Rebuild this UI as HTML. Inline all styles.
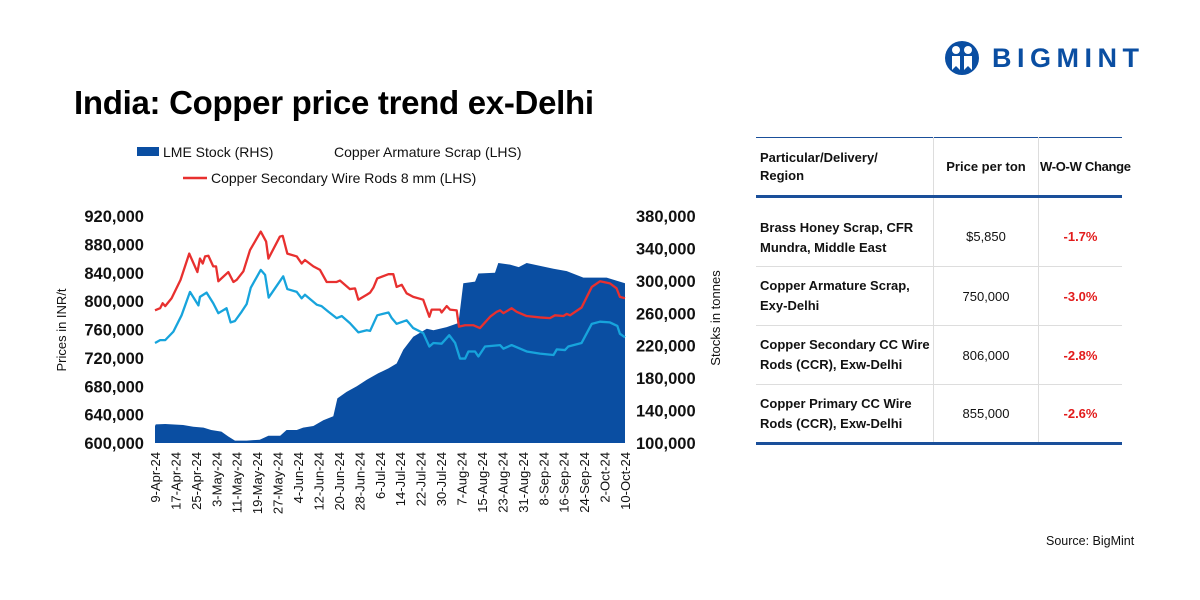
<!DOCTYPE html>
<html><head><meta charset="utf-8"><style>
body{margin:0;width:1200px;height:600px;background:#fff;font-family:"Liberation Sans",sans-serif;overflow:hidden;position:relative}
.abs{position:absolute}
td{font-size:13px}
</style></head><body>
<div class="abs" style="left:74px;top:84px;font-size:33px;font-weight:bold;color:#000;letter-spacing:-0.3px">India: Copper price trend ex-Delhi</div>
<div class="abs" style="left:944px;top:38px;height:40px;display:flex;align-items:center">
<svg width="36" height="36" viewBox="0 0 36 36"><circle cx="18" cy="18" r="17" fill="#0a4ea2"/><circle cx="12" cy="10" r="4" fill="#fff"/><circle cx="24" cy="10" r="4" fill="#fff"/><path d="M8 16h8v14l-4-4-4 4zM20 16h8v14l-4-4-4 4z" fill="#fff"/></svg>
<span style="margin-left:12px;font-size:27px;font-weight:bold;color:#0a4ea2;letter-spacing:5.5px">BIGMINT</span></div>

<svg class="abs" style="left:0;top:0" width="740" height="560" id="chart"></svg>

<table class="abs" style="left:756px;top:137px;width:366px;border-collapse:collapse;color:#111;table-layout:fixed">
<tr style="height:59px;border-top:1.5px solid #1a4f9a;border-bottom:3px solid #1a4f9a">
<td style="width:172px;padding-left:4px;font-weight:bold;font-size:13px;line-height:18px">Particular/Delivery/<br>Region</td>
<td style="width:102px;text-align:center;font-weight:bold;font-size:13px;border-left:1px solid #ddd;border-right:1px solid #ddd;white-space:nowrap">Price per ton</td>
<td style="text-align:center;font-weight:bold;font-size:13px;white-space:nowrap;letter-spacing:-0.3px">W-O-W Change</td></tr>
<tr style="height:70px;border-bottom:1px solid #ddd"><td style="padding:12px 0 0 4px;font-weight:bold;line-height:20px">Brass Honey Scrap, CFR<br>Mundra, Middle East</td><td style="text-align:center;border-left:1px solid #ddd;border-right:1px solid #ddd;padding-top:10px">$5,850</td><td style="text-align:center;color:#e21b1b;font-weight:bold;padding-top:10px">-1.7%</td></tr>
<tr style="height:59px;border-bottom:1px solid #ddd"><td style="padding-left:4px;font-weight:bold;line-height:20px">Copper Armature Scrap,<br>Exy-Delhi</td><td style="text-align:center;border-left:1px solid #ddd;border-right:1px solid #ddd">750,000</td><td style="text-align:center;color:#e21b1b;font-weight:bold">-3.0%</td></tr>
<tr style="height:59px;border-bottom:1px solid #ddd"><td style="padding-left:4px;font-weight:bold;line-height:20px;white-space:nowrap">Copper Secondary CC Wire<br>Rods (CCR), Exw-Delhi</td><td style="text-align:center;border-left:1px solid #ddd;border-right:1px solid #ddd">806,000</td><td style="text-align:center;color:#e21b1b;font-weight:bold">-2.8%</td></tr>
<tr style="height:59px;border-bottom:3px solid #1a4f9a"><td style="padding-left:4px;font-weight:bold;line-height:20px">Copper Primary CC Wire<br>Rods (CCR), Exw-Delhi</td><td style="text-align:center;border-left:1px solid #ddd;border-right:1px solid #ddd">855,000</td><td style="text-align:center;color:#e21b1b;font-weight:bold">-2.6%</td></tr>
</table>
<div class="abs" style="left:1046px;top:534px;font-size:12.5px;color:#111">Source: BigMint</div>

<script>
const redDays=[0,2,3,4,6.5,10,13.4,16.6,17.6,18.7,19.6,20.9,22.8,23.9,24.8,28.7,30.7,32,34.6,37.2,41.4,43.5,44.4,48.9,50,51.8,55.5,57.4,58.7,62,64.6,67.2,71.1,72.4,76.3,78.3,79.6,82.9,84.2,85.5,87,91.4,93.3,94.6,96.6,98.5,101.1,105,107.4,108.3,111.6,112.2,114.2,115.5,118.1,119,121.4,124.6,127.2,131.2,133.8,135.1,136.4,139.6,141.6,145.5,150.7,154.6,156.6,159.9,161.2,162.5,167,171,174.2,178.1,180.7,182,184];
const redVals=[787000,790000,797000,793000,804000,830000,867000,841000,860000,853000,863000,864000,849000,849000,828000,841000,827000,830000,842000,872000,898000,884000,860000,891000,892000,867000,863000,853000,858000,849000,844000,827000,827000,829000,817000,818000,802000,809000,812000,819000,832000,838000,838000,820000,823000,811000,806000,802000,778000,788000,788000,784000,793000,788000,787000,764000,766000,766000,762000,778000,785000,787000,783000,790000,785000,779000,777000,776000,780000,779000,782000,780000,791000,820000,828000,825000,818000,806000,804000];
const cyanDays=[0,2,4,7.2,10.4,13.7,17,17.6,20.2,22.8,24.8,28,29.6,31.3,33.9,35.9,37.5,41.4,43.1,44.5,50.2,51.8,55.5,57.4,58.7,63.3,65.2,67.9,71.1,73.1,76.3,79.6,82.9,84.2,87,91.4,92.7,94.6,98.5,101.1,105,107.4,109,112.2,115.2,117.5,119.4,121.4,122.7,125.3,126.6,129.2,135.1,136.4,139.6,145.5,150.7,156,157.3,160.5,161.8,167,171,174.2,178.1,181,182,184];
const cyanVals=[741000,745000,745000,757000,780000,813000,794000,806000,812000,797000,783000,790000,770000,772000,785000,796000,819000,844000,837000,805000,835000,817000,813000,804000,809000,795000,793000,785000,776000,779000,769000,756000,759000,758000,780000,784000,776000,768000,773000,762000,755000,736000,741000,740000,752000,741000,719000,719000,729000,729000,722000,736000,738000,733000,738000,729000,726000,724000,732000,731000,736000,741000,768000,771000,770000,765000,754000,749000];
const stockDays=[0,0.3,4,11,15,19,22,26,28.7,31.3,35.9,41,44.4,49,51.5,55.5,58,62,65.9,69.8,71.4,75,79,82.9,87.4,91.4,94.6,97.2,101.1,106.4,109,114.2,118.8,120.7,125.3,126.6,133.1,134.4,139,142.4,145.5,156,161.2,167.7,176.8,184];
const stockVals=[121000,123000,123400,122200,120000,119000,116000,114000,108000,103000,103000,104000,109000,109000,116000,116000,119000,121000,128000,133000,155000,163000,170000,178000,186000,192000,198000,215000,231000,241000,239000,243000,248000,297000,299000,309000,310000,322000,320000,317000,322000,315000,312000,304000,304000,297000];
const leftTicks=[600000,640000,680000,720000,760000,800000,840000,880000,920000];
const rightTicks=[100000,140000,180000,220000,260000,300000,340000,380000];
const dateLabels=["9-Apr-24","17-Apr-24","25-Apr-24","3-May-24","11-May-24","19-May-24","27-May-24","4-Jun-24","12-Jun-24","20-Jun-24","28-Jun-24","6-Jul-24","14-Jul-24","22-Jul-24","30-Jul-24","7-Aug-24","15-Aug-24","23-Aug-24","31-Aug-24","8-Sep-24","16-Sep-24","24-Sep-24","2-Oct-24","10-Oct-24"];
const dateDays=[0,8,16,24,32,40,48,56,64,72,80,88,96,104,112,120,128,136,144,152,160,168,176,184];

const NS="http://www.w3.org/2000/svg",svg=document.getElementById('chart');
const X0=155,X1=625,Y0=443,Y1=216;
const x=d=>X0+d/184*(X1-X0);
const yL=v=>Y0-(v-600000)/320000*(Y0-Y1);
const yR=v=>Y0-(v-100000)/280000*(Y0-Y1);
function mk(t,a){const e=document.createElementNS(NS,t);for(const k in a)e.setAttribute(k,a[k]);svg.appendChild(e);return e;}
let d=`M${x(stockDays[0])},${Y0}`;stockDays.forEach((s,i)=>d+=`L${x(s)},${yR(stockVals[i])}`);d+=`L${x(184)},${Y0}Z`;
const area=mk('path',{d,fill:'#0a4ea2'});


function line(days,vals,col,name){let p='';days.forEach((s,i)=>p+=(i?'L':'M')+x(s)+','+yL(vals[i]));const e=mk('path',{d:p,fill:'none',stroke:col,'stroke-width':2.3,'stroke-linejoin':'round'});

}
line(cyanDays,cyanVals,'#17a4dc','copper-armature-scrap-line');
line(redDays,redVals,'#e8302f','copper-secondary-wire-rods-line');
leftTicks.forEach(v=>{const t=mk('text',{x:144,y:yL(v)+6,'text-anchor':'end','font-size':16.5,'font-weight':'bold',fill:'#111'});t.textContent=v.toLocaleString('en-US');

});
rightTicks.forEach(v=>{const t=mk('text',{x:636,y:yR(v)+6,'font-size':16.5,'font-weight':'bold',fill:'#111'});t.textContent=v.toLocaleString('en-US');

});
dateLabels.forEach((s,i)=>{const px=x(dateDays[i])+5;const t=mk('text',{x:0,y:0,transform:`translate(${px},452) rotate(-90)`,'text-anchor':'end','font-size':13,fill:'#111'});t.textContent=s;

});
let t=mk('text',{transform:'translate(66,330) rotate(-90)','text-anchor':'middle','font-size':13,fill:'#111'});t.textContent='Prices in INR/t';


t=mk('text',{transform:'translate(720,318) rotate(-90)','text-anchor':'middle','font-size':13,fill:'#111'});t.textContent='Stocks in tonnes';


let r=mk('rect',{x:137,y:147,width:22,height:9,fill:'#0a4ea2'});


t=mk('text',{x:163,y:157,'font-size':14,fill:'#111'});t.textContent='LME Stock (RHS)';


t=mk('text',{x:334,y:157,'font-size':14,fill:'#111'});t.textContent='Copper Armature Scrap (LHS)';


r=mk('line',{x1:183,y1:178,x2:207,y2:178,stroke:'#e8302f','stroke-width':2.5});


t=mk('text',{x:211,y:183,'font-size':14,fill:'#111'});t.textContent='Copper Secondary Wire Rods 8 mm (LHS)';


</script>
</body></html>
